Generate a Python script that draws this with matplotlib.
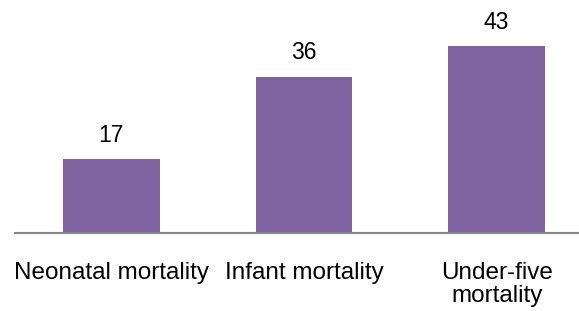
import matplotlib
matplotlib.use("Agg")
import matplotlib.pyplot as plt

categories = ["Neonatal mortality", "Infant mortality", "Under-five\nmortality"]
values = [17, 36, 43]

W, H = 579, 311
fig = plt.figure(figsize=(W / 100, H / 100), dpi=100)
plt.rcParams['font.family'] = ['Liberation Sans', 'DejaVu Sans']

left, right = 15, 593
base, top = 233, 233 - 217
ax = fig.add_axes([left / W, (H - base) / H, (right - left) / W, (base - top) / H])
ax.set_xlim(-0.5, 2.5)
ax.set_ylim(0, 50)

x = list(range(len(categories)))
bars = ax.bar(x, values, width=0.5, color='#8064A2', zorder=2)
for xi, v in zip(x, values):
    ax.annotate(str(v), (xi, v), xytext=(0, 12.5), textcoords='offset points',
                ha='center', va='baseline', fontsize=16.5, color='#000000')

for s in ['top', 'right', 'left']:
    ax.spines[s].set_visible(False)
ax.spines['bottom'].set_color('#868686')
ax.spines['bottom'].set_linewidth(1.5)
ax.spines['bottom'].set_zorder(3)
ax.set_yticks([])
ax.set_xticks(x)
ax.set_xticklabels(categories, fontsize=17.5, linespacing=1.05, va='top')
ax.tick_params(axis='x', length=0, pad=21)

fig.savefig('out.png', dpi=100)
